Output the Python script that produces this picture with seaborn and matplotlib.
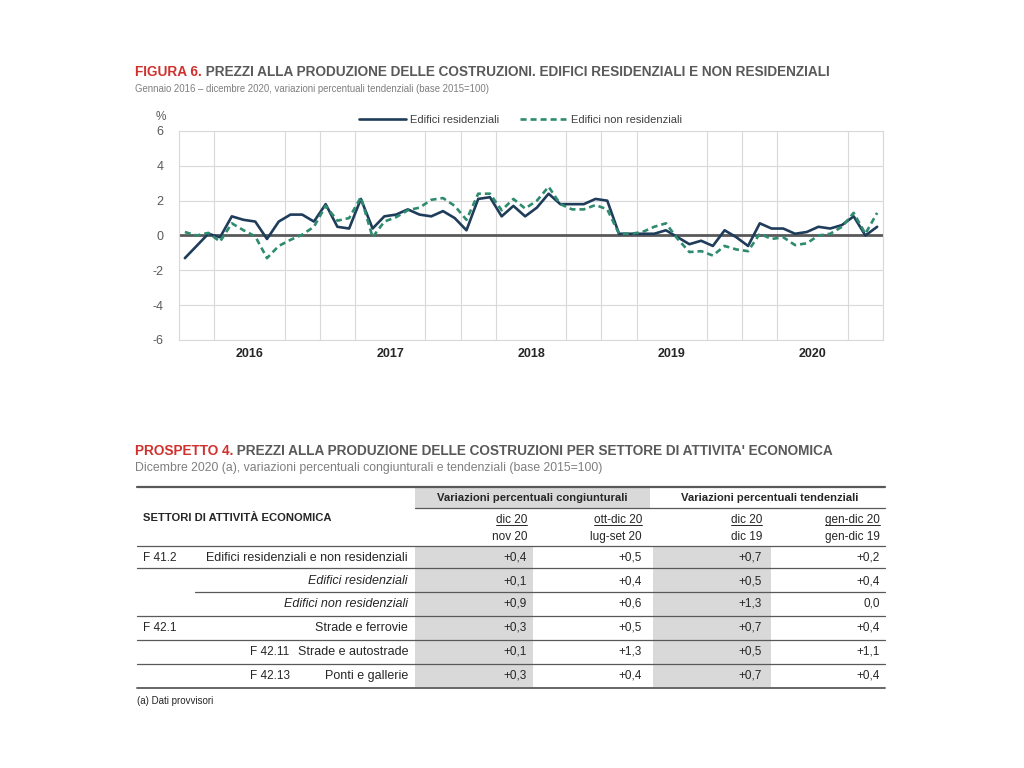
import numpy as np
import pandas as pd
import matplotlib
matplotlib.use("Agg")
import matplotlib.pyplot as plt
import seaborn as sns

# -----------------------------
# Dati: figura 6 (variazioni tendenziali mensili)
# -----------------------------
months = pd.date_range("2016-01-01", "2020-12-01", freq="MS")
residenziali = [
    -1.3, -0.6, 0.1, -0.1, 1.1, 0.9, 0.8, -0.2, 0.8, 1.2, 1.2, 0.8,
    1.8, 0.5, 0.4, 2.1, 0.4, 1.1, 1.2, 1.5, 1.2, 1.1, 1.4, 1.0,
    0.3, 2.1, 2.2, 1.1, 1.7, 1.1, 1.6, 2.4, 1.8, 1.8, 1.8, 2.1,
    2.0, 0.1, 0.1, 0.1, 0.1, 0.3, -0.1, -0.5, -0.3, -0.6, 0.3, -0.1,
    -0.6, 0.7, 0.4, 0.4, 0.1, 0.2, 0.5, 0.4, 0.6, 1.1, 0.0, 0.5,
]
non_residenziali = [
    0.2, 0.0, 0.15, -0.35, 0.7, 0.3, -0.05, -1.3, -0.6, -0.25, 0.05, 0.5,
    1.7, 0.85, 1.0, 2.2, -0.1, 0.8, 1.05, 1.45, 1.6, 2.05, 2.15, 1.7,
    0.9, 2.4, 2.4, 1.45, 2.1, 1.55, 2.0, 2.8, 1.8, 1.5, 1.5, 1.75,
    1.5, 0.1, 0.1, 0.2, 0.5, 0.7, -0.2, -0.95, -0.9, -1.15, -0.6, -0.8,
    -0.9, 0.1, -0.2, -0.1, -0.55, -0.45, 0.0, 0.1, 0.5, 1.3, 0.1, 1.3,
]
years = ["2016", "2017", "2018", "2019", "2020"]
y_ticks = [-6, -4, -2, 0, 2, 4, 6]

# -----------------------------
# Dati: prospetto 4
# -----------------------------
codici = ["F 41.2", "", "", "F 42.1", "F 42.11", "F 42.13"]
settori = ["Edifici residenziali e non residenziali", "Edifici residenziali",
           "Edifici non residenziali", "Strade e ferrovie",
           "Strade e autostrade", "Ponti e gallerie"]
cong_mese = ["+0,4", "+0,1", "+0,9", "+0,3", "+0,1", "+0,3"]
cong_trim = ["+0,5", "+0,4", "+0,6", "+0,5", "+1,3", "+0,4"]
tend_mese = ["+0,7", "+0,5", "+1,3", "+0,7", "+0,5", "+0,7"]
tend_anno = ["+0,2", "+0,4", "0,0", "+0,4", "+1,1", "+0,4"]
head_top = ["dic 20", "ott-dic 20", "dic 20", "gen-dic 20"]
head_bot = ["nov 20", "lug-set 20", "dic 19", "gen-dic 19"]

RED = "#d0312d"
GREY = "#595959"
NAVY = "#1f3d5a"
TEAL = "#2e8b6f"

sns.set_theme(style="white")
plt.rcParams["font.family"] = ["Liberation Sans Narrow", "Liberation Sans", "DejaVu Sans"]
plt.rcParams["axes.unicode_minus"] = False

fig = plt.figure(figsize=(10.24, 7.68), dpi=100)
fig.patch.set_facecolor("white")

# pagina in coordinate pixel (per titoli e tabella)
page = fig.add_axes([0, 0, 1, 1])
page.set_xlim(0, 1024)
page.set_ylim(768, 0)
page.axis("off")


def titolo(x, y, rosso, grigio, sotto, fs, fs_sotto):
    t1 = page.text(x, y, rosso, color=RED, fontsize=fs, fontweight="bold",
                   va="baseline", ha="left")
    page.annotate(" " + grigio, xy=(1, 0), xycoords=t1, va="bottom", ha="left",
                  color=GREY, fontsize=fs, fontweight="bold")
    page.text(x, y + 16, sotto, color="#7f7f7f", fontsize=fs_sotto, va="baseline", ha="left")


titolo(135, 76, "FIGURA 6.",
       "PREZZI ALLA PRODUZIONE DELLE COSTRUZIONI. EDIFICI RESIDENZIALI E NON RESIDENZIALI",
       "Gennaio 2016 \u2013 dicembre 2020, variazioni percentuali tendenziali (base 2015=100)",
       9.8, 6.9)

# -----------------------------
# Grafico
# -----------------------------
ax = fig.add_axes([179 / 1024, 1 - 340 / 768, 704 / 1024, 209 / 768])
df = pd.DataFrame({
    "x": np.arange(len(months)) + 0.5,
    "Edifici residenziali": residenziali,
    "Edifici non residenziali": non_residenziali,
})
long = df.melt("x", var_name="serie", value_name="valore")
sns.lineplot(data=long, x="x", y="valore", hue="serie", style="serie",
             palette={"Edifici residenziali": NAVY, "Edifici non residenziali": TEAL},
             dashes={"Edifici residenziali": "", "Edifici non residenziali": (2.3, 1.5)},
             linewidth=1.9, ax=ax)

ax.axhline(0, color=GREY, lw=2, zorder=1)
ax.set_xlim(0, len(months))
ax.set_ylim(-6, 6)
ax.set_yticks(y_ticks)
ax.set_yticklabels([str(v) for v in y_ticks])
ax.set_xticks(np.arange(6, len(months), 12))
ax.set_xticklabels(years, fontweight="bold")
ax.set_xticks(np.arange(0, len(months) + 1, 3), minor=True)
ax.grid(True, which="minor", axis="x", color="#d9d9d9", lw=0.8)
ax.grid(True, which="major", axis="y", color="#d9d9d9", lw=0.8)
ax.tick_params(axis="both", which="both", length=0)
ax.tick_params(axis="y", labelsize=9, labelcolor=GREY, pad=11)
ax.tick_params(axis="x", labelsize=9, labelcolor="#262626", pad=6)
ax.set_xlabel("")
ax.set_ylabel("")
for s in ax.spines.values():
    s.set_color("#d9d9d9")
    s.set_linewidth(0.8)

handles, labels = ax.get_legend_handles_labels()
ax.legend(handles, labels, loc="lower center", bbox_to_anchor=(0.485, 1.0), ncol=2,
          frameon=False, fontsize=8, handlelength=4.2, columnspacing=1.8,
          handletextpad=0.4, borderaxespad=0.15, labelcolor="#404040")
page.text(156, 120, "%", color=GREY, fontsize=8.5, ha="left", va="baseline")

# -----------------------------
# Prospetto 4
# -----------------------------
titolo(135, 455, "PROSPETTO 4.",
       "PREZZI ALLA PRODUZIONE DELLE COSTRUZIONI PER SETTORE DI ATTIVITA' ECONOMICA",
       "Dicembre 2020 (a), variazioni percentuali congiunturali e tendenziali (base 2015=100)",
       9.85, 8.8)

TX0, TX1 = 137, 885
col_right = [527, 642, 762, 880]
shade_cols = [(415, 533), (653, 771)]
row_y = [558, 581, 604, 628, 652, 676]
row_lines = [(568, TX0), (592, 195), (616, TX0), (640, TX0), (664, TX0)]
FS = 9.0
FSB = 8.1

page.add_patch(plt.Rectangle((415, 488), 235, 20, color="#d9d9d9", lw=0))
for a, b in shade_cols:
    page.add_patch(plt.Rectangle((a, 547), b - a, 140, color="#d9d9d9", lw=0))

page.plot([TX0, TX1], [487, 487], color=GREY, lw=1.6)
page.plot([415, TX1], [508, 508], color=GREY, lw=0.9)
page.plot([TX0, TX1], [546, 546], color=GREY, lw=0.9)
for y, x0 in row_lines:
    page.plot([x0, TX1], [y, y], color=GREY, lw=0.9)
page.plot([TX0, TX1], [688, 688], color=GREY, lw=1.3)

page.text(532, 498, "Variazioni percentuali congiunturali", fontsize=FSB,
          fontweight="bold", ha="center", va="center", color="#262626")
page.text(770, 498, "Variazioni percentuali tendenziali", fontsize=FSB,
          fontweight="bold", ha="center", va="center", color="#262626")
page.text(143, 518, "SETTORI DI ATTIVIT\u00c0 ECONOMICA", fontsize=FSB,
          fontweight="bold", ha="left", va="center", color="#262626")

top_texts = []
for xr, t, b in zip(col_right, head_top, head_bot):
    top_texts.append(page.text(xr, 520, t, fontsize=8.5, ha="right", va="center", color="#262626"))
    page.text(xr, 537, b, fontsize=8.5, ha="right", va="center", color="#262626")

for i, y in enumerate(row_y):
    if codici[i]:
        xc = 143 if len(codici[i]) <= 6 else 250
        page.text(xc, y, codici[i], fontsize=8.5, ha="left", va="center", color="#262626")
    style = "italic" if i in (1, 2) else "normal"
    page.text(408, y, settori[i], fontsize=FS, ha="right", va="center",
              style=style, color="#262626")
    for xr, col in zip(col_right, [cong_mese, cong_trim, tend_mese, tend_anno]):
        page.text(xr, y, col[i], fontsize=8.5, ha="right", va="center", color="#262626")

page.text(137, 701, "(a) Dati provvisori", fontsize=7, ha="left", va="center", color="#262626")

# sottolineatura delle intestazioni superiori
fig.canvas.draw()
inv = page.transData.inverted()
for t in top_texts:
    bb = t.get_window_extent()
    (x0, y0), (x1, y1) = inv.transform([[bb.x0, bb.y0], [bb.x1, bb.y1]])
    page.plot([x0, x1], [y0 - 1, y0 - 1], color="#262626", lw=0.7)

fig.savefig("out.png", dpi=100, facecolor="white")
